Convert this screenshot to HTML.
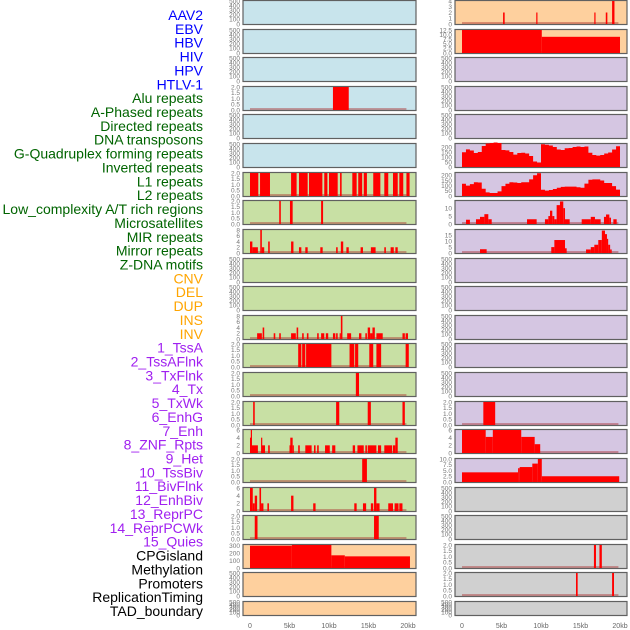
<!DOCTYPE html>
<html><head><meta charset="utf-8"><style>
html,body{margin:0;padding:0;background:#fff;}
svg{display:block;font-family:"Liberation Sans",sans-serif;}
</style></head><body>
<svg id="chart" width="630" height="630" viewBox="0 0 630 630" xmlns="http://www.w3.org/2000/svg"></svg>
<script>
// ---------- data ----------
const labelNames = ["AAV2","EBV","HBV","HIV","HPV","HTLV-1","Alu repeats","A-Phased repeats","Directed repeats","DNA transposons","G-Quadruplex forming repeats","Inverted repeats","L1 repeats","L2 repeats","Low_complexity A/T rich regions","Microsatellites","MIR repeats","Mirror repeats","Z-DNA motifs","CNV","DEL","DUP","INS","INV","1_TssA","2_TssAFlnk","3_TxFlnk","4_Tx","5_TxWk","6_EnhG","7_Enh","8_ZNF_Rpts","9_Het","10_TssBiv","11_BivFlnk","12_EnhBiv","13_ReprPC","14_ReprPCWk","15_Quies","CPGisland","Methylation","Promoters","ReplicationTiming","TAD_boundary"];
const labelGroups = ["v","v","v","v","v","v","r","r","r","r","r","r","r","r","r","r","r","r","r","c","c","c","c","c","s","s","s","s","s","s","s","s","s","s","s","s","s","s","s","o","o","o","o","o"];
const xTicks = [0,5,10,15,20];
const xTickLabels = ["0","5kb","10kb","15kb","20kb"];

// bars: [startKb, endKb, value]
const aluBars = [[10.5,12.5,2]];
const l1Bars = [[0,1.05,2],[1.27,2.53,2],[5.2,5.9,2],[6.2,7.3,2],[7.47,9.16,2],[9.4,9.8,2],[10,11.1,2],[11.4,11.6,2],[12.95,13.5,2],[13.7,14.2,2],[14.4,14.8,2],[15.6,16.5,2],[17,17.5,2],[18.1,18.7,2],[18.9,19.4,2],[19.8,20.2,2]];
const l2Bars = [[3.7,3.9,2],[5.06,5.4,2],[9.0,9.25,2]];
const lowCompBars = [[0,0.3,4],[0.3,1.0,2],[1.3,1.5,8],[1.5,1.8,2],[2.3,2.5,4],[5.2,5.5,4],[6.2,6.5,2],[7,7.3,2],[8.9,9.2,2],[10.9,11.1,2],[11.5,11.8,4],[12.2,12.5,2],[14,14.3,2],[15.3,15.9,2],[17,17.2,2],[17.8,18.2,2],[18.4,18.7,2]];
const invBars = [[0.9,1.5,2],[1.6,1.8,4],[3,3.2,2],[3.7,3.9,2],[5.2,5.8,2],[5.9,6.1,4],[6.6,6.8,2],[7.2,7.4,2],[8.5,8.7,2],[9,9.4,2],[9.6,9.9,2],[10.5,10.8,2],[10.9,11.1,2],[11.35,11.5,2],[11.5,11.7,8],[12.3,12.8,2],[13.8,14.1,2],[14.6,14.8,2],[14.9,15.2,4],[15.2,15.5,2],[15.5,15.8,4],[16,16.8,2],[19.3,19.6,2],[19.7,20,2]];
const tssABars = [[6.1,6.5,2],[6.6,7,2],[7.1,10.3,2],[12.6,13.2,2],[13.3,13.7,2],[15.1,15.6,2],[16,16.6,2],[19.7,20.1,2]];
const txFlnkBars = [[13.4,13.8,2]];
const txBars = [[0.4,0.6,2],[10.9,11.3,2],[14.9,15.3,2],[19.3,19.6,2]];
const txWkBars = [[0,0.1,4],[0.1,0.25,6],[0.25,1.0,2],[1.4,1.5,4],[1.5,1.9,2],[2.3,2.5,2],[5.0,5.1,2],[5.1,5.4,4],[5.4,5.5,2],[6.1,6.3,2],[7,7.8,2],[8.1,8.3,2],[8.5,8.7,2],[9.5,10.1,2],[10.4,10.8,2],[13,13.3,2],[13.6,14.4,2],[14.6,14.8,2],[14.9,16,2],[16.2,16.6,2],[17,18,2],[18.1,18.4,2],[18.4,18.7,4]];
const enhGBars = [[14.2,14.8,2]];
const enhBars = [[0,0.35,6],[0.35,0.6,2],[0.6,0.9,4],[1.2,1.4,6],[1.4,1.7,2],[2.2,2.4,2],[5.2,5.5,4],[8,8.3,2],[13.2,13.5,2],[14.3,14.7,2],[15.3,15.6,2],[15.7,16,6],[16,16.4,2],[17.5,18.1,2],[18.3,18.8,2],[18.9,19.3,2]];
const znfBars = [[0.6,0.95,2],[15.7,16.3,2]];
const cpgBars = [[0,5.3,300],[5.3,10.3,310],[10.3,12,171],[12,20.25,157]];
const rAav2Bars = [[5.2,5.4,2],[9.4,9.55,2],[16.75,16.9,2],[18.2,18.4,2],[19.0,19.3,4]];
const rEbvBars = [[0,10.1,12.5],[10.1,20,8.8]];
const rMicroBars = [[0.51,1.0,2.7],[1.77,2.28,3],[2.28,2.83,4.5],[2.83,3.33,6.2],[3.33,3.76,3],[8.23,9.45,3],[10.5,10.93,3],[10.93,11.14,5],[11.14,11.43,8.4],[11.43,11.69,5],[11.69,11.98,3],[11.98,12.4,11.9],[12.4,12.82,14.2],[12.82,13.04,10],[13.04,13.63,3],[15.15,16.3,3],[16.3,16.83,4.5],[16.83,17.55,3],[17.97,18.23,4.5],[18.23,18.65,6],[18.65,18.86,4],[19.16,19.58,3]];
const rMirBars = [[2.28,3.12,3.2],[11.3,11.69,5],[11.69,13.04,11],[13.04,13.25,4],[15.7,16.3,3],[16.3,16.75,5],[16.75,17.25,7],[17.25,17.7,11],[17.7,18.1,19],[18.1,18.35,16],[18.35,18.5,12],[18.5,18.75,7],[18.75,18.95,3]];
const rReprBars = [[2.7,4.2,2]];
const rReprWkBars = [[0,3.0,6],[3.0,3.9,4.2],[3.9,7.5,6],[7.5,9.2,4.2],[9.2,9.9,2.3]];
const rQuiesBars = [[0,7.1,4.2],[7.1,7.3,6],[7.3,8.9,6.5],[8.9,9.6,8],[9.6,10.1,10],[10.1,19.9,2.5]];
const rPromBars = [[16.7,16.96,2],[17.4,17.7,2]];
const rRepTimeBars = [[14.43,14.64,2],[19.0,19.24,2]];
// area profiles: 40 bins of 0.5 kb
const rGQuadValues = [148,176,165,140,150,210,235,240,245,240,170,166,150,124,140,142,135,110,55,45,228,222,215,200,175,170,187,190,200,205,200,205,142,120,114,120,135,145,175,207];
const rInvValues = [118,100,115,133,130,70,35,29,29,45,95,118,133,130,125,133,133,160,200,220,60,52,58,67,80,88,90,90,90,85,80,120,157,160,160,150,125,125,95,62];

const tick500 = [0,100,200,300,400,500];
const tick2 = [0,0.5,1,1.5,2];
const tick8 = [0,2,4,6,8];
const tick6 = [0,2,4,6];
const tick4 = [0,1,2,3,4];
const tick12 = [0,2.5,5,7.5,10,12.5];
const tick200 = [0,50,100,150,200];
const tick10 = [0,5,10];
const tick15 = [0,5,10,15];
const tick10b = [0,2.5,5,7.5,10];
const tick300 = [0,100,200,300];

// ---------- layout ----------
const svg = document.getElementById('chart');
const NS = 'http://www.w3.org/2000/svg';
const BLUE='#c8e4ec', GREEN='#c8e0a4', ORANGE='#fed09e', PURPLE='#d5c6e2', GREY='#d0d0d0';
const groupColor = {v:'#0000ff', r:'#006400', c:'#ffa500', s:'#a020f0', o:'#000000'};
const cols = [{x0:243,x1:416,k0:250,k1:408,tx:240},{x0:455,x1:627,k0:462,k1:620,tx:452}];
function xScale(c,kb){return cols[c].k0 + kb/20*(cols[c].k1-cols[c].k0);}
function rowTop(r){return Math.round(r*28.62);}
function rowH(r){return r===21?15:25;}
function mk(tag,attrs){const e=document.createElementNS(NS,tag);for(const k in attrs)e.setAttribute(k,attrs[k]);svg.appendChild(e);return e;}

function panel(c,r,bg,ticks,ymax,dec,name){
  const T=rowTop(r),H=rowH(r);
  const rc=mk('rect',{x:cols[c].x0,y:T+0.5,width:cols[c].x1-cols[c].x0,height:H-1,fill:bg,stroke:'#606060','stroke-width':1.2});
  
  
  ticks.forEach(v=>{
    const y=T+H-1-v/ymax*(H-2);
    const t=mk('text',{x:cols[c].tx,y:y+2.3,'font-size':6.5,fill:'#777','text-anchor':'end'});
    t.textContent = dec? v.toFixed(1): String(v);
    
    
  });
  return {c,T,H,ymax,name};
}
function yS(p,v){return p.T+p.H-1-v/p.ymax*(p.H-2);}
function baseline(p,end){
  const l=mk('line',{x1:xScale(p.c,0),x2:xScale(p.c,end||19.8),y1:p.T+p.H-2,y2:p.T+p.H-2,stroke:'rgba(170,40,40,0.55)','stroke-width':1.6});
  
  
}
function bars(p,data){
  baseline(p);
  data.forEach(d=>{
    const x1=xScale(p.c,d[0]), x2=xScale(p.c,d[1]);
    const y=yS(p,d[2]);
    const b=mk('rect',{x:x1,y:y,width:Math.max(1.2,x2-x1),height:p.T+p.H-1-y,fill:'#ff0000'});
    
    
  });
}
function area(p,vals){
  let pts=[];const base=p.T+p.H-1;
  pts.push(xScale(p.c,0)+','+base);
  vals.forEach((v,i)=>{const y=yS(p,v);pts.push(xScale(p.c,i*0.5)+','+y);pts.push(xScale(p.c,(i+1)*0.5)+','+y);});
  pts.push(xScale(p.c,20)+','+base);
  const a=mk('polygon',{points:pts.join(' '),fill:'#ff0000'});
  
  
}

// left column
const leftBg=[BLUE,BLUE,BLUE,BLUE,BLUE,BLUE,GREEN,GREEN,GREEN,GREEN,GREEN,GREEN,GREEN,GREEN,GREEN,GREEN,GREEN,GREEN,GREEN,ORANGE,ORANGE,ORANGE];
const leftSpec={3:[tick2,2,1,aluBars],6:[tick2,2,1,l1Bars],7:[tick2,2,1,l2Bars],8:[tick8,8,0,lowCompBars],11:[tick8,8,0,invBars],12:[tick2,2,1,tssABars],13:[tick2,2,1,txFlnkBars],14:[tick2,2,1,txBars],15:[tick6,6,0,txWkBars],16:[tick2,2,1,enhGBars],17:[tick6,6,0,enhBars],18:[tick2,2,1,znfBars],19:[tick300,310,0,cpgBars]};
for(let r=0;r<22;r++){
  const s=leftSpec[r];
  if(s){const p=panel(0,r,leftBg[r],s[0],s[1],s[2],'left-row-'+r); if(r===19){s[3].forEach(()=>{}); bars(p,s[3]);} else bars(p,s[3]);}
  else panel(0,r,leftBg[r],tick500,500,0,'left-row-'+r);
}
// right column
const rightBg=[ORANGE,ORANGE,PURPLE,PURPLE,PURPLE,PURPLE,PURPLE,PURPLE,PURPLE,PURPLE,PURPLE,PURPLE,PURPLE,PURPLE,PURPLE,PURPLE,PURPLE,GREY,GREY,GREY,GREY,GREY];
const rightSpec={0:[tick4,4,0,rAav2Bars],1:[tick12,12.5,1,rEbvBars],7:[tick10,14.5,0,rMicroBars],8:[tick15,19.5,0,rMirBars],14:[tick2,2,1,rReprBars],15:[tick6,6,0,rReprWkBars],16:[tick10b,10,1,rQuiesBars],19:[tick2,2,1,rPromBars],20:[tick2,2,1,rRepTimeBars]};
for(let r=0;r<22;r++){
  const s=rightSpec[r];
  if(r===5){const p=panel(1,r,rightBg[r],tick200,230,0,'right-row-5');area(p,rGQuadValues);}
  else if(r===6){const p=panel(1,r,rightBg[r],tick200,222,0,'right-row-6');area(p,rInvValues);}
  else if(s){const p=panel(1,r,rightBg[r],s[0],s[1],s[2],'right-row-'+r);bars(p,s[3]);}
  else panel(1,r,rightBg[r],tick500,500,0,'right-row-'+r);
}
// x axes
for(let c=0;c<2;c++){
  xTicks.forEach((v,i)=>{
    const t=mk('text',{x:xScale(c,v),y:628,'font-size':7,fill:'#666','text-anchor':'middle'});
    t.textContent=xTickLabels[i];
    
    
  });
}
// track labels
labelNames.forEach((n,i)=>{
  const t=mk('text',{x:203,y:15+i*13.86+5,'font-size':14,fill:groupColor[labelGroups[i]],'text-anchor':'end'});
  t.textContent=n;
  
  
});
</script>
</body></html>
